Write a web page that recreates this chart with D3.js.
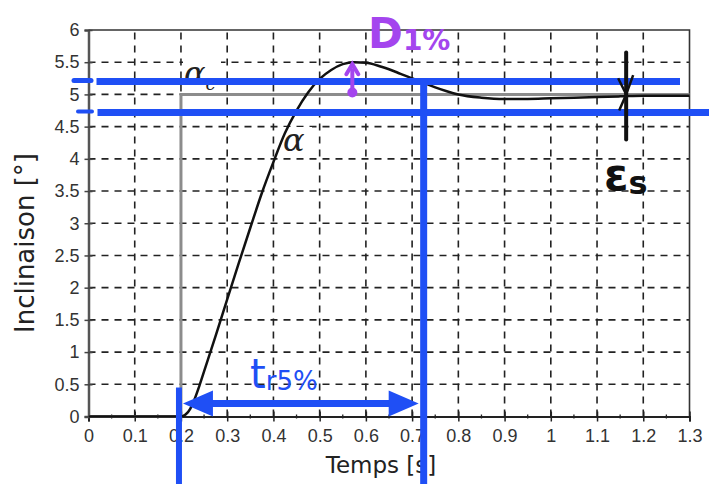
<!DOCTYPE html>
<html>
<head>
<meta charset="utf-8">
<script src="https://cdn.jsdelivr.net/npm/d3@7"></script>
<style>
  body { margin: 0; background: #fff; }
  svg { display: block; font-family: "DejaVu Sans", sans-serif; }
</style>
</head>
<body>
<div id="chart"></div>
<script>
const temps = [0, 0.1, 0.2, 0.21, 0.22, 0.23, 0.24, 0.25, 0.275, 0.3, 0.325, 0.35, 0.375, 0.4,
  0.425, 0.45, 0.475, 0.5, 0.525, 0.55, 0.575, 0.6, 0.625, 0.65, 0.675, 0.7, 0.725, 0.75,
  0.775, 0.8, 0.85, 0.9, 0.95, 1.0, 1.05, 1.1, 1.15, 1.2, 1.25, 1.3];
const inclinaison = [0, 0, 0, 0.03, 0.12, 0.28, 0.48, 0.7, 1.25, 1.82, 2.38, 2.93, 3.47, 3.95,
  4.4, 4.75, 5.03, 5.24, 5.38, 5.47, 5.5, 5.49, 5.45, 5.39, 5.32, 5.25, 5.18, 5.11,
  5.05, 5.0, 4.95, 4.93, 4.93, 4.94, 4.95, 4.96, 4.97, 4.98, 4.98, 4.98];

// consigne (échelon gris)
const consigneTemps = [0, 0.2, 0.2, 1.3];
const consigneValeurs = [0, 0, 5, 5];

// ticks
const xTicks = d3.range(0, 14).map(i => +(i / 10).toFixed(1));
const yTicks = d3.range(0, 13).map(i => i / 2);

// annotations manuscrites (en unités du graphe)
const bande = [5.2, 4.72];        // bande ±5 %
const tr = [0.2, 0.725];          // temps de réponse 5 %
const depassement = [0.575, 5.5, 5.0]; // t, max, valeur finale
const erreurT = 1.163;            // position de εs

const width = 709, height = 484;
const x = d3.scaleLinear().domain([0, 1.3]).range([88.5, 689.5]);
const y = d3.scaleLinear().domain([0, 6]).range([416.5, 30]);

const svg = d3.select("#chart").append("svg")
  .attr("width", width).attr("height", height);

const blue = "#1f4ff5", purple = "#a445ee";
const hand = "Comic Sans MS, DejaVu Sans, sans-serif";

// grille pointillée
svg.append("g").selectAll("line").data(xTicks.slice(1, -1)).join("line")
  .attr("x1", d => x(d)).attr("x2", d => x(d))
  .attr("y1", y(0)).attr("y2", y(6))
  .attr("stroke", "#222").attr("stroke-width", 1.6).attr("stroke-dasharray", "7,6");
svg.append("g").selectAll("line").data(yTicks.slice(1, -1)).join("line")
  .attr("x1", x(0)).attr("x2", x(1.3))
  .attr("y1", d => y(d)).attr("y2", d => y(d))
  .attr("stroke", "#222").attr("stroke-width", 1.6).attr("stroke-dasharray", "7,6");

// cadre haut / droite
svg.append("path")
  .attr("d", `M${x(0)},${y(6)}H${x(1.3)}V${y(0)}`)
  .attr("fill", "none").attr("stroke", "#333").attr("stroke-width", 1.6);

// axes
const xAxis = svg.append("g").attr("transform", `translate(0,${y(0)})`)
  .call(d3.axisBottom(x).tickValues(xTicks).tickSize(5).tickPadding(8)
    .tickFormat(d => d3.format("~g")(d)));
xAxis.select(".domain").attr("stroke", "#222").attr("stroke-width", 2);
xAxis.selectAll(".tick line").attr("stroke", "#222").attr("stroke-width", 1.5).attr("y1", -5);
xAxis.selectAll("text").attr("font-size", 18).attr("fill", "#333");
svg.append("g").selectAll("line").data(xTicks.slice(0, -1).map(d => d + 0.05)).join("line")
  .attr("x1", d => x(d)).attr("x2", d => x(d))
  .attr("y1", y(0) - 2).attr("y2", y(0) + 2).attr("stroke", "#222").attr("stroke-width", 1.3);

const yAxis = svg.append("g").attr("transform", `translate(${x(0)},0)`)
  .call(d3.axisLeft(y).tickValues(yTicks).tickSize(4).tickPadding(5)
    .tickFormat(d => d3.format("~g")(d)));
yAxis.select(".domain").attr("stroke", "#555").attr("stroke-width", 2.5);
yAxis.selectAll(".tick line").attr("stroke", "#444").attr("stroke-width", 1.5).attr("x1", 4);
yAxis.selectAll("text").attr("font-size", 18).attr("fill", "#333");

svg.append("text").attr("x", 381).attr("y", 473).attr("text-anchor", "middle")
  .attr("font-size", 23).attr("fill", "#222").text("Temps [s]");
svg.append("text").attr("transform", "translate(34,243) rotate(-90)")
  .attr("text-anchor", "middle").attr("font-size", 26).attr("fill", "#222")
  .text("Inclinaison [°]");

// consigne
svg.append("path")
  .datum(d3.zip(consigneTemps, consigneValeurs))
  .attr("d", d3.line().x(d => x(d[0])).y(d => y(d[1])))
  .attr("fill", "none").attr("stroke", "#8c8c8c").attr("stroke-width", 3);

// étiquettes α
svg.append("rect").attr("x", 183).attr("y", 55).attr("width", 38).attr("height", 36).attr("fill", "#fff");
const ac = svg.append("text").attr("x", 184).attr("y", 84)
  .attr("font-family", "DejaVu Serif, serif").attr("font-style", "italic")
  .attr("font-size", 32).attr("fill", "#222");
ac.append("tspan").text("α");
ac.append("tspan").attr("font-size", 18).attr("dy", 6).text("c");
svg.append("rect").attr("x", 282).attr("y", 127).attr("width", 30).attr("height", 28).attr("fill", "#fff");
svg.append("text").attr("x", 283).attr("y", 151)
  .attr("font-family", "DejaVu Serif, serif").attr("font-style", "italic")
  .attr("font-size", 32).attr("fill", "#222").text("α");

// réponse
svg.append("path")
  .datum(d3.zip(temps, inclinaison))
  .attr("d", d3.line().curve(d3.curveMonotoneX).x(d => x(d[0])).y(d => y(d[1])))
  .attr("fill", "none").attr("stroke", "#111").attr("stroke-width", 2.5);

// bande 5 %
svg.append("line").attr("x1", x(0) + 8).attr("x2", 680)
  .attr("y1", y(bande[0])).attr("y2", y(bande[0]))
  .attr("stroke", blue).attr("stroke-width", 7);
svg.append("line").attr("x1", 74).attr("x2", 91)
  .attr("y1", y(bande[0]) - 1).attr("y2", y(bande[0]) - 1)
  .attr("stroke", blue).attr("stroke-width", 5).attr("stroke-linecap", "round");
svg.append("line").attr("x1", x(0) + 9).attr("x2", width)
  .attr("y1", y(bande[1])).attr("y2", y(bande[1]))
  .attr("stroke", blue).attr("stroke-width", 7);
svg.append("line").attr("x1", 78).attr("x2", 92)
  .attr("y1", y(bande[1]) - 1).attr("y2", y(bande[1]) - 1)
  .attr("stroke", blue).attr("stroke-width", 4).attr("stroke-linecap", "round");

// temps de réponse
svg.append("line").attr("x1", x(tr[1])).attr("x2", x(tr[1]))
  .attr("y1", y(bande[0]) - 3).attr("y2", height)
  .attr("stroke", blue).attr("stroke-width", 7);
svg.append("line").attr("x1", x(tr[0]) - 2).attr("x2", x(tr[0]) - 2)
  .attr("y1", y(0.45)).attr("y2", height)
  .attr("stroke", blue).attr("stroke-width", 6);
const ya = y(0.2);
svg.append("line").attr("x1", x(tr[0]) + 20).attr("x2", x(tr[1]) - 22)
  .attr("y1", ya).attr("y2", ya).attr("stroke", blue).attr("stroke-width", 7);
svg.append("path")
  .attr("d", `M${x(tr[0]) + 2},${ya}L${x(tr[0]) + 32},${ya - 13}L${x(tr[0]) + 32},${ya + 13}Z`)
  .attr("fill", blue);
svg.append("path")
  .attr("d", `M${x(tr[1]) - 5},${ya}L${x(tr[1]) - 35},${ya - 13}L${x(tr[1]) - 35},${ya + 13}Z`)
  .attr("fill", blue);
const trLabel = svg.append("text").attr("x", 250).attr("y", 388)
  .attr("fill", blue).attr("font-family", hand).attr("font-size", 40);
trLabel.append("tspan").text("t");
trLabel.append("tspan").attr("font-size", 26).attr("dy", 2).text("r5%");

// dépassement
const xd = x(depassement[0]) - 2;
svg.append("line").attr("x1", xd).attr("x2", xd)
  .attr("y1", y(depassement[1]) + 6).attr("y2", y(depassement[2]) - 4)
  .attr("stroke", purple).attr("stroke-width", 4);
svg.append("path")
  .attr("d", `M${xd - 6},${y(depassement[1]) + 12}L${xd},${y(depassement[1]) + 2}L${xd + 6},${y(depassement[1]) + 12}`)
  .attr("fill", "none").attr("stroke", purple).attr("stroke-width", 4).attr("stroke-linecap", "round");
svg.append("circle").attr("cx", xd).attr("cy", y(depassement[2]) - 2).attr("r", 5).attr("fill", purple);
const dLabel = svg.append("text").attr("x", 368).attr("y", 48)
  .attr("fill", purple).attr("font-family", hand)
  .attr("font-size", 42).attr("font-weight", "bold");
dLabel.append("tspan").text("D");
dLabel.append("tspan").attr("font-size", 28).attr("dy", 2).text("1%");

// erreur statique
const xe = x(erreurT);
svg.append("line").attr("x1", xe).attr("x2", xe)
  .attr("y1", y(5.65)).attr("y2", y(4.3))
  .attr("stroke", "#111").attr("stroke-width", 4).attr("stroke-linecap", "round");
svg.append("path")
  .attr("d", `M${xe - 8},${y(5.25)}L${xe},${y(5.0)}L${xe + 7},${y(5.3)}M${xe - 7},${y(4.75)}L${xe},${y(5.0)}`)
  .attr("fill", "none").attr("stroke", "#111").attr("stroke-width", 2.5);
const eLabel = svg.append("text").attr("x", 604).attr("y", 190)
  .attr("fill", "#111").attr("font-family", hand)
  .attr("font-size", 44).attr("font-weight", "bold");
eLabel.append("tspan").text("ε");
eLabel.append("tspan").attr("font-size", 32).attr("dy", 4).text("s");
</script>
</body>
</html>
